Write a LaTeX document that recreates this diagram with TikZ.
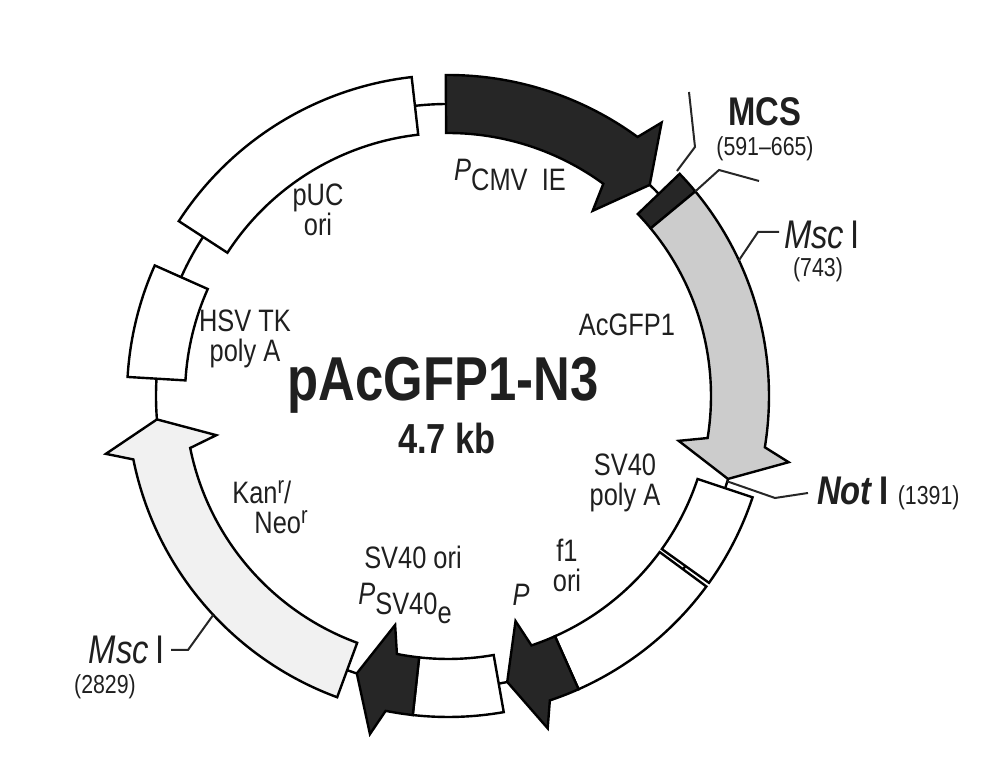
\documentclass[tikz,border=0pt]{standalone}
\usepackage{fontspec}
\usetikzlibrary{calc}
\setmainfont{Liberation Sans}[FakeStretch=0.82]
\begin{document}
\begin{tikzpicture}[x=1pt,y=1pt,line width=2.4pt,line join=miter,
  lbl/.style={font=\fontsize{31}{33}\selectfont,color=black!88,align=center,inner sep=0pt},
  sml/.style={font=\fontsize{26}{28}\selectfont,color=black!88,inner sep=0pt},
  lead/.style={line width=2pt,color=black!85}]
\definecolor{dk}{HTML}{262626}
\definecolor{gr}{HTML}{CCCCCC}
\definecolor{lg}{HTML}{F1F1F1}
\useasboundingbox (0,0) rectangle (997,773);
\coordinate (O) at (448,377);
\def\R{292}\def\ri{263}\def\ro{321}\def\wi{235}\def\wo{347}
\newcommand\featbox[3]{\draw[fill=#3] ($(O)+(#1:\ro)$) arc (#1:#2:\ro) -- ($(O)+(#2:\ri)$) arc (#2:#1:\ri) -- cycle;}
\newcommand\featarrow[4]{%
  \pgfmathsetmacro\bb{#2+1.8*sign(#1-#2)}%
  \draw[fill=#4] ($(O)+(#1:\ro)$) arc (#1:\bb:\ro) -- ($(O)+(#2:\wo)$) -- ($(O)+(#3:\R)$) -- ($(O)+(#2:\wi)$) -- ($(O)+(\bb:\ri)$) arc (\bb:#1:\ri) -- cycle;}
% backbone
\draw (O) circle[radius=\R];
% features
\featbox{96.5}{147}{white}
\featbox{156}{176.6}{white}
\featarrow{-110.2}{-170.4}{-175.4}{lg}
\featarrow{90.4}{52}{46.3}{dk}
\featbox{43.8}{39.6}{dk}
\featarrow{39.6}{-11}{-16.5}{gr}
\featbox{-18.4}{-35.6}{white}
\featbox{-36.4}{-66}{white}
\featarrow{-66}{-73.3}{-78.3}{dk}
\featbox{-80}{-96.3}{white}
\featarrow{-96.3}{-103}{-108.2}{dk}
% labels
\node[lbl] (pcmv) at (510,598) {\textit{P}\raisebox{-10pt}{CMV\ \ IE}};
\node[lbl] (puc) at (318,563) {pUC\\[-3pt]ori};
\node[lbl] (hsv) at (245,434) {HSV TK\\[-3pt]poly A};
\node[lbl] (gfp) at (627,448) {AcGFP1};
\node[inner sep=0pt,font=\bfseries\fontsize{62}{66}\selectfont,color=black!88] (title) at (443,388) {pAcGFP1-N3};
\node[inner sep=0pt,font=\bfseries\fontsize{42}{44}\selectfont,color=black!88] (size) at (447,335) {4.7 kb};
\node[lbl] (sv40pa) at (625,290) {SV40\\[-3pt]poly A};
\node[lbl] (f1) at (567,208) {f1\\[-3pt]ori};
\node[lbl] (p) at (521,178) {\textit{P}};
\node[lbl] (svori) at (413,216) {SV40 ori};
\node[lbl] (psv) at (405,170) {\textit{P}\raisebox{-10pt}{SV40\raisebox{-9pt}{e}}};
\node[lbl,align=left] (kan) at (270,266) {Kan\raisebox{10pt}{\fontsize{24}{26}\selectfont r}/\\[-3pt]\hspace*{22pt}Neo\raisebox{10pt}{\fontsize{24}{26}\selectfont r}};
% MCS
\node[inner sep=0pt,font=\bfseries\fontsize{40}{44}\selectfont,color=black!88] (mcs) at (765,661) {MCS};
\node[sml] (mcsn) at (765,624) {(591--665)};
\coordinate (m1) at ($(O)+(44.5:\ro)$);
\coordinate (m2) at ($(O)+(39.6:\ro)$);
\draw[lead] (m1) -- (695,626) -- (689,681);
\draw[lead] (m2) -- (719,603) -- (759,592);
% Msc I right
\node[inner sep=0pt,anchor=west,font=\fontsize{40}{44}\selectfont,color=black!88] (msc1) at (783,538) {\textit{Msc}\,I};
\node[sml] (msc1n) at (818,503) {(743)};
\coordinate (ms1) at ($(O)+(25:\ro)$);
\draw[lead] (ms1) -- (758,541) -- (779,541);
% Not I
\node[inner sep=0pt,anchor=west,font=\fontsize{40}{44}\selectfont,color=black!88] (not) at (816,280) {\textbf{\textit{Not}}\,\textbf{I}\ \fontsize{26}{28}\selectfont(1391)};
\coordinate (n1) at ($(O)+(-17:\R)$);
\draw[lead] (n1) -- (775,275) -- (808,280);
% Msc I left
\node[inner sep=0pt,anchor=east,font=\fontsize{40}{44}\selectfont,color=black!88] (msc2) at (166,123) {\textit{Msc}\,I};
\node[sml] (msc2n) at (105,86) {(2829)};
\coordinate (ms2) at ($(O)+(-137:\ro)$);
\draw[lead] (ms2) -- (188,123) -- (171,123);
\end{tikzpicture}
\end{document}
